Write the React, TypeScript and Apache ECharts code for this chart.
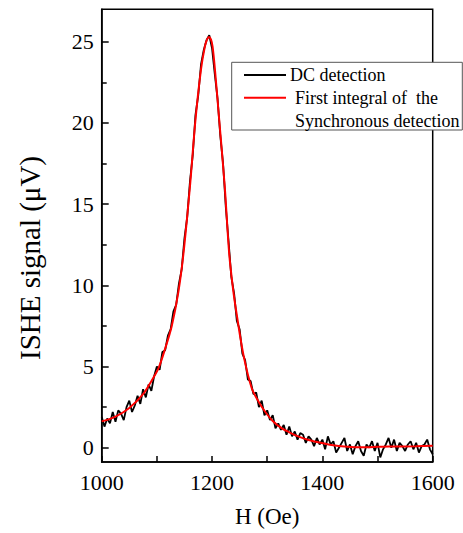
import React, { useEffect, useRef } from "react";
import * as echarts from "echarts";

// Field values H (Oe), step 5 Oe, for the DC detection (black, noisy)
const dcStart = 1000;
const dcStep = 5;
const dcValues = [
  1.9, 1.3, 1.8, 1.5, 2.2, 1.6, 2.3, 2.1, 1.7, 2.5,
  2.9, 2.2, 2.6, 3.2, 2.7, 3.6, 3.1, 3.9, 3.5, 4.4,
  5.0, 4.8, 5.9, 6.0, 6.9, 7.3, 8.4, 8.8, 10.1, 11.0,
  12.9, 14.2, 16.4, 18.0, 20.5, 21.7, 23.6, 24.5, 25.1, 25.4,
  24.6, 23.0, 21.5, 19.2, 17.5, 14.8, 12.7, 10.5, 9.5, 7.8,
  7.3, 5.8, 5.4, 4.2, 4.1, 3.3, 3.4, 2.5, 2.9, 2.0,
  2.3, 1.7, 2.0, 1.2, 1.5, 1.1, 1.4, 0.8, 1.3, 0.7,
  1.0, 0.5, 0.9, 0.8, 0.3, 0.7, 0.5, 0.1, 0.6, 0.2,
  0.5, -0.1, 0.7, 0.2, 0.4, -0.3, 0.0, 0.3, 0.6, -0.2,
  0.2, -0.4, 0.1, 0.4, -0.2, -0.5, 0.2, 0.0, 0.4, -0.2,
  0.3, -0.6, -0.1, 0.2, 0.6, 0.0, 0.5, -0.2, 0.3, 0.1,
  -0.2, 0.2, 0.4, -0.1, 0.3, -0.3, 0.1, 0.2, 0.5, -0.1,
  -0.4,
];

// First integral of the synchronous detection (red, smooth)
const fitH = [
  1000, 1025, 1050, 1075, 1090, 1103, 1115, 1127, 1139, 1148, 1160, 1170, 1180,
  1187, 1191, 1194.5, 1198, 1201, 1205, 1213, 1223, 1231, 1238, 1245, 1257, 1272,
  1285, 1296, 1310, 1326, 1340, 1356, 1375, 1399, 1420, 1440, 1460, 1480, 1500,
  1520, 1545, 1570, 1600,
];
const fitV = [
  1.62, 1.92, 2.45, 3.3, 4.1, 4.9, 6.1, 7.5, 9.6, 11.9, 16.1, 20.2, 23.3,
  24.7, 25.15, 25.3, 25.15, 24.7, 23.4, 20.2, 16.1, 12.0, 9.8, 8.15, 5.7, 3.66,
  2.8, 2.23, 1.65, 1.21, 0.95, 0.7, 0.48, 0.29, 0.15, 0.07, 0.03, 0.03, 0.06,
  0.08, 0.08, 0.09, 0.12,
];

const yMajorTicks = [0, 5, 10, 15, 20, 25];
const yMinorTicks = [2.5, 7.5, 12.5, 17.5, 22.5];
const legendLabels = ["DC detection", "First integral of  the", "Synchronous detection"];

const FONT = "Liberation Serif";

export default function App() {
  const ref = useRef<HTMLDivElement>(null);
  useEffect(() => {
    if (!ref.current) return;
    const chart = echarts.init(ref.current, undefined, { renderer: "svg" });
    const dcData = dcValues.map((v, i) => [dcStart + i * dcStep, v]);
    const fitData = fitH.map((h, i) => [h, fitV[i]]);
    const gl = 101.7, gt = 9.3, gr = 432.7, gb = 464;
    chart.setOption({
      animation: false,
      backgroundColor: "#fff",
      textStyle: { fontFamily: FONT },
      grid: {
        left: gl,
        top: gt,
        width: gr - gl,
        height: gb - gt,
        show: true,
        borderColor: "#000",
        borderWidth: 1.5,
        backgroundColor: "transparent",
      },
      xAxis: {
        type: "value",
        min: 1000,
        max: 1600,
        interval: 200,
        name: "H (Oe)",
        nameLocation: "middle",
        nameGap: 43,
        nameTextStyle: { fontFamily: FONT, fontSize: 23, color: "#000" },
        axisLine: { onZero: false, lineStyle: { color: "#000", width: 1.5 } },
        axisTick: { inside: true, length: 6, lineStyle: { color: "#000", width: 1.5 } },
        minorTick: { show: true, splitNumber: 2, length: 6, lineStyle: { color: "#000", width: 1.5 } },
        splitLine: { show: false },
        axisLabel: {
          color: "#000",
          fontFamily: FONT,
          fontSize: 22,
          margin: 9,
          formatter: (v: number) => String(v),
        },
      },
      yAxis: [
        {
          type: "value",
          min: -0.88,
          max: 27,
          splitNumber: 5,
          position: "left",
          axisLine: { onZero: false, lineStyle: { color: "#000", width: 1.5 } },
          axisTick: {
            inside: true,
            length: 7,
            customValues: yMajorTicks,
            lineStyle: { color: "#000", width: 1.5 },
          },
          splitLine: { show: false },
          axisLabel: {
            color: "#000",
            fontFamily: FONT,
            fontSize: 22,
            margin: 8,
            customValues: yMajorTicks,
            formatter: (v: number) => String(v),
          },
        },
        {
          type: "value",
          min: -0.88,
          max: 27,
          position: "left",
          axisLine: { show: false },
          axisTick: {
            inside: true,
            length: 5,
            customValues: yMinorTicks,
            lineStyle: { color: "#000", width: 1.5 },
          },
          splitLine: { show: false },
          axisLabel: { show: false },
        },
      ],
      graphic: [
        {
          type: "text",
          x: 30,
          y: 258,
          rotation: Math.PI / 2,
          style: {
            text: "ISHE signal (μV)",
            fontFamily: FONT,
            fontSize: 29,
            fill: "#000",
            align: "center",
            verticalAlign: "middle",
          },
        },
        {
          type: "rect",
          shape: { x: 231.7, y: 62.3, width: 230.6, height: 67.7 },
          style: { fill: "#fff", stroke: "#555", lineWidth: 1 },
          z: 100,
        },
        {
          type: "line",
          shape: { x1: 244, y1: 75, x2: 286, y2: 75 },
          style: { stroke: "#000", lineWidth: 2 },
          z: 101,
        },
        {
          type: "line",
          shape: { x1: 244, y1: 97.7, x2: 286, y2: 97.7 },
          style: { stroke: "#ff0000", lineWidth: 2 },
          z: 101,
        },
        {
          type: "text",
          x: 290,
          y: 75,
          style: { text: legendLabels[0], fontFamily: FONT, fontSize: 18, fill: "#000", verticalAlign: "middle" },
          z: 101,
        },
        {
          type: "text",
          x: 295,
          y: 97.7,
          style: { text: legendLabels[1], fontFamily: FONT, fontSize: 18, fill: "#000", verticalAlign: "middle" },
          z: 101,
        },
        {
          type: "text",
          x: 295,
          y: 120.5,
          style: { text: legendLabels[2], fontFamily: FONT, fontSize: 18, fill: "#000", verticalAlign: "middle" },
          z: 101,
        },
      ],
      series: [
        {
          type: "line",
          data: dcData,
          showSymbol: false,
          lineStyle: { color: "#000", width: 1.8 },
          z: 2,
        },
        {
          type: "line",
          data: fitData,
          smooth: 0.3,
          showSymbol: false,
          lineStyle: { color: "#ff0000", width: 2 },
          z: 3,
        },
      ],
    });
    return () => chart.dispose();
  }, []);
  return (
    <div
      ref={ref}
      style={{ position: "fixed", left: 0, top: 0, width: 463, height: 533, background: "#fff" }}
    />
  );
}
